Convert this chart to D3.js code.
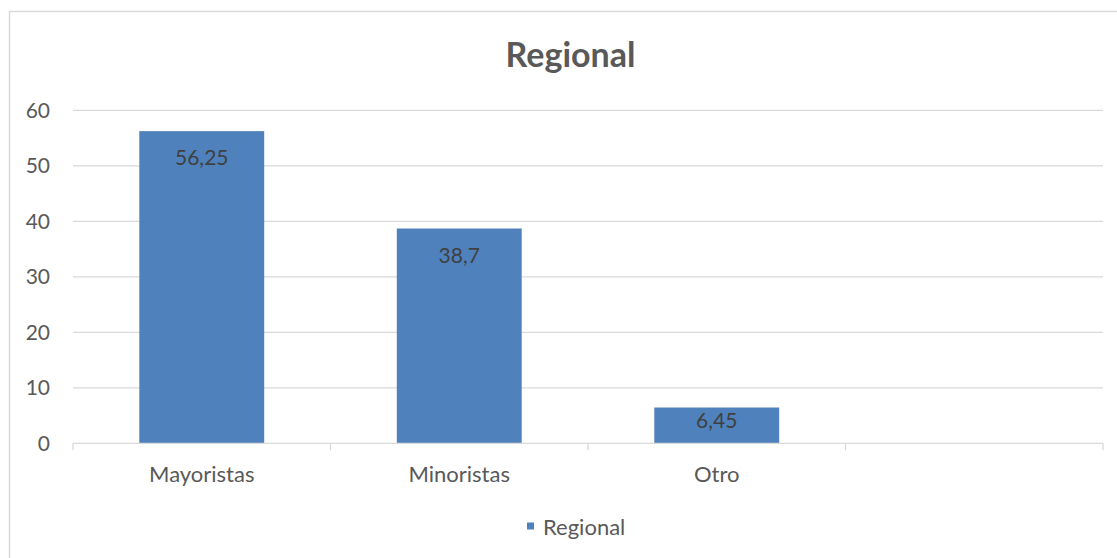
<!DOCTYPE html>
<html>
<head>
<meta charset="utf-8">
<script src="https://cdn.jsdelivr.net/npm/d3@7"></script>
<style>
  html, body { margin: 0; padding: 0; background: #ffffff; }
  svg { display: block; font-family: Lato, "Noto Sans", sans-serif; }
</style>
</head>
<body>
<svg id="chart" width="1117" height="558"></svg>
<script>
const title = "Regional";
const seriesName = "Regional";
const categories = ["Mayoristas", "Minoristas", "Otro", ""];
const values = [56.25, 38.7, 6.45, null];
const valueLabels = ["56,25", "38,7", "6,45", ""];
const yTicks = [0, 10, 20, 30, 40, 50, 60];

const svg = d3.select("#chart");
const W = 1117, H = 558;
const margin = { left: 73, right: 14, top: 110.3, bottom: 114.7 };
const x0 = margin.left, x1 = W - margin.right;
const y0 = H - margin.bottom, y1 = margin.top;

const barColor = "#4f81bd";
const gridColor = "#d9d9d9";
const textColor = "#595959";

// outer border
svg.append("rect")
  .attr("x", 9.5).attr("y", 11.5)
  .attr("width", W + 20).attr("height", H + 20)
  .attr("fill", "#fff").attr("stroke", gridColor).attr("stroke-width", 1.5);

const x = d3.scaleBand().domain(categories).range([x0, x1])
  .paddingInner(0.515).paddingOuter(0.2575);
const y = d3.scaleLinear().domain([0, 60]).range([y0, y1]);

// gridlines
svg.append("g").selectAll("line").data(yTicks.filter(d => d !== 0)).join("line")
  .attr("x1", x0).attr("x2", x1)
  .attr("y1", d => y(d)).attr("y2", d => y(d))
  .attr("stroke", gridColor).attr("stroke-width", 1.3);

// y axis labels
const yAxis = d3.axisLeft(y).tickValues(yTicks).tickSize(0).tickPadding(23)
  .tickFormat(d3.format("d"));
const gy = svg.append("g").attr("transform", `translate(${x0},0)`).call(yAxis);
gy.select(".domain").remove();
gy.selectAll("text").attr("fill", textColor).style("font-size", "21px")
  .style("font-family", "Lato, 'Noto Sans', sans-serif");

// bars
const data = categories.map((c, i) => ({ c, v: values[i], label: valueLabels[i] }))
  .filter(d => d.v !== null);
svg.append("g").selectAll("rect").data(data).join("rect")
  .attr("x", d => x(d.c)).attr("width", x.bandwidth())
  .attr("y", d => y(d.v)).attr("height", d => y(0) - y(d.v))
  .attr("fill", barColor);

// data labels (inside end)
svg.append("g").selectAll("text").data(data).join("text")
  .attr("x", d => x(d.c) + x.bandwidth() / 2)
  .attr("y", d => Math.min(y(d.v) + 34, y(0) - 15))
  .attr("text-anchor", "middle")
  .attr("fill", "#404040").style("font-size", "21px")
  .text(d => d.label);

// x axis
const step = x.step();
const bounds = d3.range(categories.length + 1).map(i => x0 + i * step);
svg.append("line").attr("x1", x0).attr("x2", x1).attr("y1", y0).attr("y2", y0)
  .attr("stroke", gridColor).attr("stroke-width", 1.3);
svg.append("g").selectAll("line").data(bounds).join("line")
  .attr("x1", d => d).attr("x2", d => d).attr("y1", y0).attr("y2", y0 + 7)
  .attr("stroke", gridColor).attr("stroke-width", 1.3);
svg.append("g").selectAll("text").data(categories).join("text")
  .attr("x", d => x(d) + x.bandwidth() / 2)
  .attr("y", y0 + 39)
  .attr("text-anchor", "middle").attr("fill", textColor).style("font-size", "22px")
  .text(d => d);

// title
svg.append("text").attr("x", 570.5).attr("y", 67)
  .attr("text-anchor", "middle").attr("fill", textColor)
  .style("font-size", "34px").style("font-weight", "bold")
  .text(title);

// legend
const lg = svg.append("g");
lg.append("rect").attr("x", 527).attr("y", 522.5).attr("width", 7).attr("height", 7).attr("fill", barColor);
lg.append("text").attr("x", 543).attr("y", 535).attr("fill", textColor)
  .style("font-size", "22px").text(seriesName);
</script>
</body>
</html>
